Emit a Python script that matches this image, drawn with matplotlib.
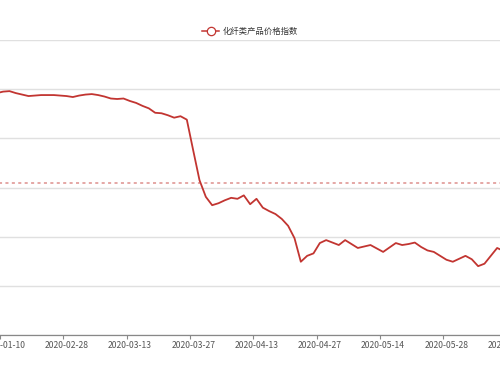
import numpy as np
import matplotlib
matplotlib.use('Agg')
import matplotlib.pyplot as plt
from matplotlib.lines import Line2D

plt.rcParams['font.family'] = ['Noto Sans CJK SC', 'DejaVu Sans']

# price index values (one per trading day)
indexValues = [1192, 1195, 1196, 1192, 1189, 1186, 1187, 1188, 1188, 1188,
               1187, 1186, 1184, 1187, 1189, 1190, 1188, 1185, 1181, 1180,
               1181, 1176, 1172, 1166, 1161, 1152, 1151, 1147, 1142, 1145,
               1138, 1076, 1015, 981, 964, 968, 974, 979, 977, 984,
               966, 977, 959, 952, 946, 936, 922, 897, 849, 861,
               866, 887, 893, 888, 883, 893, 885, 877, 880, 883,
               876, 869, 878, 887, 883, 885, 888, 879, 872, 869,
               861, 853, 849, 855, 861, 854, 840, 845, 861, 877, 871]
# labelled categories, every tenth point starting at index 1
tickDates = ['2020-01-10', '2020-02-28', '2020-03-13', '2020-03-27', '2020-04-13',
             '2020-04-27', '2020-05-14', '2020-05-28', '2020-06-11']
tickIndex = [1 + 10 * i for i in range(len(tickDates))]
seriesName = '化纤类产品价格指数'

red = '#c23531'
fig = plt.figure(figsize=(5, 3.75), dpi=100)
# axes reach past the figure edges, the picture is a crop of a wider chart
pxPerPoint = 6.333
leftPx, rightPx = -60, 560
ax = fig.add_axes([leftPx / 500, 40 / 375 * 0 + (375 - 335) / 375,
                   (rightPx - leftPx) / 500, 295 / 375])
x0 = 0.5 + leftPx / pxPerPoint
x1 = 0.5 + rightPx / pxPerPoint
xs = np.arange(len(indexValues))
ax.plot(xs, indexValues, color=red, linewidth=1.3, zorder=3)
ax.axhline(np.mean(indexValues), color=red, alpha=0.55, linewidth=1.1,
           dashes=(2, 2.2), zorder=2)

ax.set_xlim(x0, x1)
ax.set_ylim(700, 1300)
ax.set_yticks(np.arange(700, 1301, 100))
ax.yaxis.grid(True, color='#e0e0e0', linewidth=1.0)
ax.tick_params(axis='y', left=False, labelleft=False)

ax.set_xticks(tickIndex)
ax.set_xticklabels(tickDates, fontsize=6.2, color='#555555')
ax.set_xticks([t - 0.5 for t in tickIndex], minor=True)
ax.tick_params(axis='x', which='major', length=0, pad=4.5)
ax.tick_params(axis='x', which='minor', length=3, color='#888888', width=0.8)

for side in ['top', 'left', 'right']:
    ax.spines[side].set_visible(False)
ax.spines['bottom'].set_color('#888888')
ax.spines['bottom'].set_linewidth(0.9)

handle = Line2D([], [], color=red, linewidth=1.1, marker='o', markersize=6,
                markerfacecolor='white', markeredgecolor=red, markeredgewidth=0.9)
fig.legend([handle], [seriesName], loc='center', bbox_to_anchor=(0.5, 1 - 31 / 375),
           frameon=False, fontsize=6, handlelength=2.0, handletextpad=0.4,
           labelcolor='#333333')

fig.savefig('out.png', dpi=100)
